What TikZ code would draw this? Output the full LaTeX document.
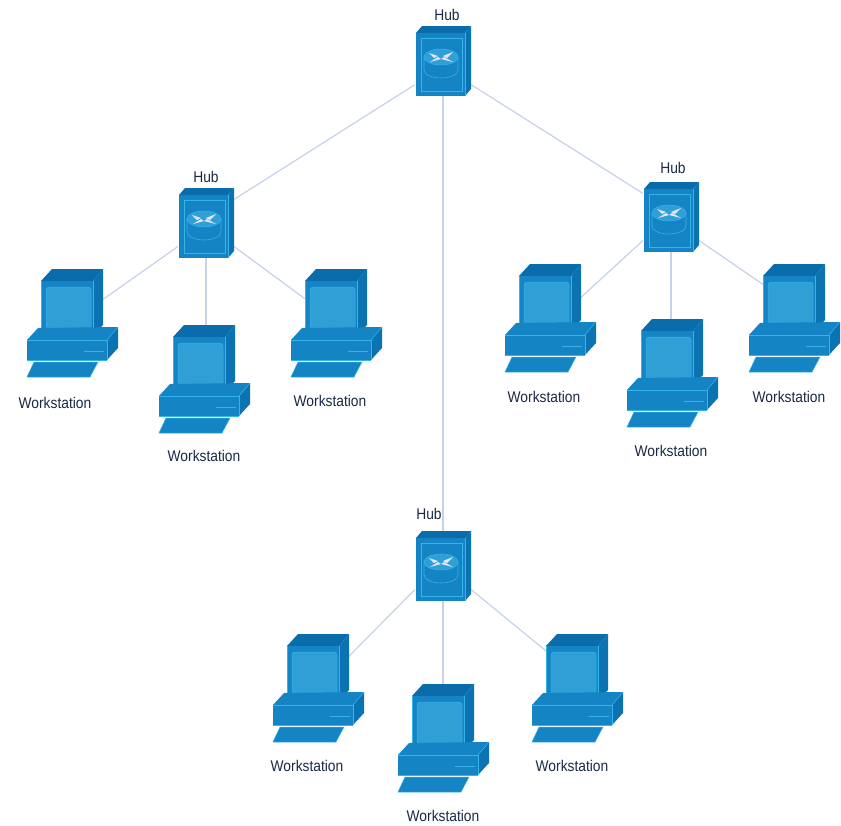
\documentclass[tikz,border=0pt]{standalone}
\usepackage{fontspec}
\newfontfamily\labfont[FakeStretch=0.89]{Liberation Sans}
\definecolor{blTop}{HTML}{0A6CAA}
\definecolor{blSide}{HTML}{0B73B2}
\definecolor{blFront}{HTML}{1484C4}
\definecolor{blScreen}{HTML}{2F9FD6}
\definecolor{blEdge}{HTML}{35B4EA}
\definecolor{linkC}{HTML}{C6D2E8}
\definecolor{txt}{HTML}{1A2A44}
\tikzset{
  lab/.style={font=\labfont\fontsize{15.5}{16}\selectfont, text=txt, inner sep=0pt},
  link/.style={draw=linkC, line width=1.2pt},
  hubbox/.style={minimum width=56pt, minimum height=70pt, inner sep=0pt},
  wsbox/.style={minimum width=60pt, minimum height=64pt, inner sep=0pt},
  workstation/.pic={
    % monitor
    \fill[blTop] (15,13)--(26,1)--(77,1)--(67,13)--cycle;
    \fill[blSide] (67,13)--(77,1)--(77,57)--(67,67)--cycle;
    \fill[blFront] (15,13) rectangle (67,67);
    \fill[blScreen, draw=blEdge, line width=.5pt, rounded corners=3pt] (20,19) rectangle (65,62);
    \draw[blEdge, line width=.7pt] (15,13)--(15,67)--(67,67);
    \draw[blEdge, line width=.5pt] (67,13)--(67,67);
    % base
    \fill[blFront] (1,72)--(12,60)--(92,59)--(81,72)--cycle;
    \fill[blSide] (81,72)--(92,59)--(92,80)--(81,92)--cycle;
    \fill[blFront] (1,72) rectangle (81,92);
    \draw[blEdge, line width=.7pt] (1,72)--(81,72)--(81,92);
    \draw[blEdge, line width=.7pt] (1,92)--(81,92);
    \draw[blEdge, line width=.5pt] (81,72)--(92,59);
    \draw[blEdge, line width=.6pt] (58,83)--(78,83);
    % keyboard
    \fill[blFront, draw=blEdge, line width=.5pt] (1,109)--(8,94)--(72,94)--(64,109)--cycle;
  },
  hubpic/.pic={
    \fill[blTop] (-27,-27)--(-21,-34)--(28,-34)--(22,-27)--cycle;
    \fill[blSide] (22,-27)--(28,-34)--(28,29)--(22,36)--cycle;
    \fill[blFront] (-27,-27) rectangle (22,36);
    \draw[blEdge, line width=.8pt] (-22,-22) rectangle (19,31);
    \draw[blEdge, line width=.6pt] (22,-27)--(22,36);
    % router
    \fill[blFront, draw=blEdge, line width=.6pt]
      (-19,-3) -- (-19,10) arc[start angle=180, end angle=360, x radius=17pt, y radius=8pt]
      -- (15,-3) -- cycle;
    \fill[blScreen, draw=blEdge, line width=.5pt] (-2,-3) ellipse[x radius=17pt, y radius=8pt];
    \fill[white!90!blue] (-14,-7)--(-5,-4)--(-9,-2)--cycle;
    \fill[white!90!blue] (10,-8)--(0,-4)--(4,-2)--cycle;
    \fill[white!90!blue] (-13,2)--(-5,-3)--(-2,-1)--cycle;
    \fill[white!90!blue] (10,2)--(1,-3)--(-2,-1)--cycle;
  }
}
\begin{document}
\begin{tikzpicture}[x=1pt,y=-1pt]
\useasboundingbox (0,0) rectangle (841,825);
\fill[white] (0,0) rectangle (841,825);
% anchor nodes
\node[hubbox] (h1) at (443,61) {};
\node[hubbox] (h2) at (206,223) {};
\node[hubbox] (h3) at (671,217) {};
\node[hubbox] (h4) at (443,566) {};
\node[wsbox] (w1) at (70,304) {};
\node[wsbox] (w2) at (204,360) {};
\node[wsbox] (w3) at (335,304) {};
\node[wsbox] (w4) at (549,299) {};
\node[wsbox] (w5) at (671,354) {};
\node[wsbox] (w6) at (794,299) {};
\node[wsbox] (w7) at (317,669) {};
\node[wsbox] (w8) at (443,719) {};
\node[wsbox] (w9) at (577,669) {};
% connectors
\draw[link] (h1.220) -- (h2.40);
\draw[link] (h1.-40) -- (h3.140);
\draw[link] (h1.south) -- (h4.north);
\draw[link] (h2.220) -- (w1.5);
\draw[link] (h2.south) -- (h2.south |- w2.north);
\draw[link] (h2.-40) -- (w3.170);
\draw[link] (h3.220) -- (w4.east);
\draw[link] (h3.south) -- (w5.north);
\draw[link] (h3.-40) -- (w6.155);
\draw[link] (h4.220) -- (w7.20);
\draw[link] (h4.south) -- (w8.north);
\draw[link] (h4.-40) -- (w9.150);
% artwork
\pic at (443,60) {hubpic};
\pic at (206,222) {hubpic};
\pic at (671,216) {hubpic};
\pic at (443,565) {hubpic};
\pic at (26,268) {workstation};
\pic at (158,324) {workstation};
\pic at (290,268) {workstation};
\pic at (504,263) {workstation};
\pic at (626,318) {workstation};
\pic at (748,263) {workstation};
\pic at (272,633) {workstation};
\pic at (397,683) {workstation};
\pic at (531,633) {workstation};
% labels
\node[lab] (lh1) at (447,15) {Hub};
\node[lab] (lh2) at (206,177) {Hub};
\node[lab] (lh3) at (673,168) {Hub};
\node[lab] (lh4) at (429,514) {Hub};
\node[lab] (l1) at (55,403) {Workstation};
\node[lab] (l2) at (204,456) {Workstation};
\node[lab] (l3) at (330,401) {Workstation};
\node[lab] (l4) at (544,397) {Workstation};
\node[lab] (l5) at (671,451) {Workstation};
\node[lab] (l6) at (789,397) {Workstation};
\node[lab] (l7) at (307,766) {Workstation};
\node[lab] (l8) at (443,816) {Workstation};
\node[lab] (l9) at (572,766) {Workstation};
\end{tikzpicture}
\end{document}
